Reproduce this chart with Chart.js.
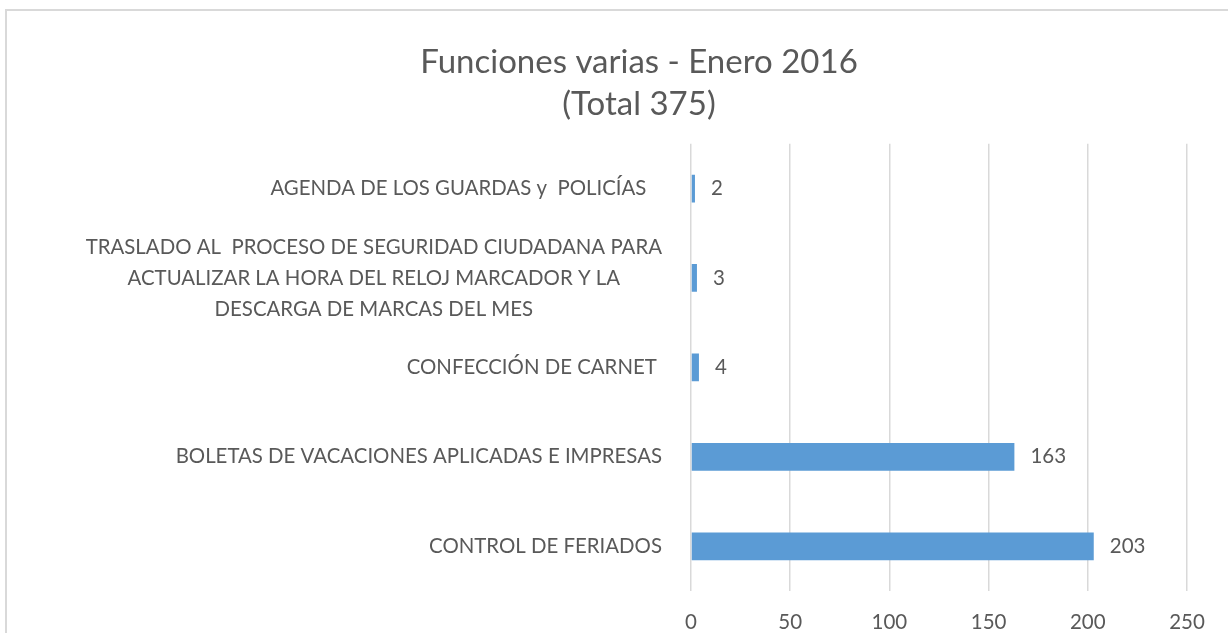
<!DOCTYPE html>
<html>
<head>
<meta charset="utf-8">
<script src="https://cdn.jsdelivr.net/npm/chart.js@4.4.1/dist/chart.umd.min.js"></script>
<style>
  html, body { margin: 0; padding: 0; background: #ffffff; overflow: hidden; }
  #wrap { position: absolute; left: 0; top: 0; width: 1228px; height: 633px; }
</style>
</head>
<body>
<div id="wrap"><canvas id="c"></canvas></div>
<script>
const titleLines = ['Funciones varias - Enero 2016', '(Total 375)'];
const categories = [
  'AGENDA DE LOS GUARDAS y  POLICÍAS   ',
  ['TRASLADO AL  PROCESO DE SEGURIDAD CIUDADANA PARA', 'ACTUALIZAR LA HORA DEL RELOJ MARCADOR Y LA', 'DESCARGA DE MARCAS DEL MES'],
  'CONFECCIÓN DE CARNET ',
  'BOLETAS DE VACACIONES APLICADAS E IMPRESAS',
  'CONTROL DE FERIADOS'
];
const values = [2, 3, 4, 163, 203];
const xTicks = [0, 50, 100, 150, 200, 250];

const FONT = 'Lato, "Open Sans", sans-serif';
const TEXT = '#595959';
const LABEL_SIZE = 20.4;
const NUM_SIZE = 20.5;

const borderPlugin = {
  id: 'frame',
  beforeDraw(chart) {
    const ctx = chart.ctx;
    ctx.save();
    ctx.fillStyle = '#d9d9d9';
    ctx.fillRect(5, 9, 2, chart.height);
    ctx.fillRect(5, 9, chart.width, 2);
    ctx.restore();
  }
};

const yLabelPlugin = {
  id: 'yLabels',
  afterDraw(chart) {
    const ctx = chart.ctx;
    const ys = chart.scales.y;
    const right = chart.chartArea.left - 29;
    ctx.save();
    ctx.font = LABEL_SIZE + 'px ' + FONT;
    ctx.fillStyle = TEXT;
    ctx.textBaseline = 'middle';
    chart.data.labels.forEach((lab, i) => {
      const y = ys.getPixelForTick(i);
      if (Array.isArray(lab)) {
        const maxW = Math.max(...lab.map(l => ctx.measureText(l).width));
        const cx = right - maxW / 2;
        const lh = 31;
        ctx.textAlign = 'center';
        lab.forEach((l, k) => {
          ctx.fillText(l, cx, y + (k - (lab.length - 1) / 2) * lh);
        });
      } else {
        ctx.textAlign = 'right';
        ctx.fillText(lab, right, y);
      }
    });
    ctx.restore();
  }
};

const valueLabelPlugin = {
  id: 'valueLabels',
  afterDatasetsDraw(chart) {
    const ctx = chart.ctx;
    const meta = chart.getDatasetMeta(0);
    ctx.save();
    ctx.font = NUM_SIZE + 'px ' + FONT;
    ctx.fillStyle = TEXT;
    ctx.textAlign = 'left';
    ctx.textBaseline = 'middle';
    meta.data.forEach((bar, i) => {
      ctx.fillText(String(chart.data.datasets[0].data[i]), bar.x + 16, bar.y);
    });
    ctx.restore();
  }
};

new Chart(document.getElementById('c'), {
  type: 'bar',
  data: {
    labels: categories,
    datasets: [{
      data: values,
      backgroundColor: '#5b9bd5',
      borderWidth: 0,
      barPercentage: 0.31,
      categoryPercentage: 1
    }]
  },
  options: {
    indexAxis: 'y',
    responsive: true,
    maintainAspectRatio: false,
    animation: false,
    layout: { padding: { left: 91, right: 41, top: 0, bottom: 2 } },
    plugins: {
      legend: { display: false },
      tooltip: { enabled: false },
      title: {
        display: true,
        text: titleLines,
        color: TEXT,
        font: { family: FONT, size: 33, weight: 'normal', lineHeight: 1.27 },
        padding: { top: 41, bottom: 19 }
      }
    },
    scales: {
      x: {
        type: 'linear',
        min: xTicks[0],
        max: xTicks[xTicks.length - 1],
        afterBuildTicks(scale) { scale.ticks = xTicks.map(v => ({ value: v })); },
        afterFit(scale) { scale.height = 40; },
        grid: { color: '#d9d9d9', lineWidth: 1.5, drawTicks: false },
        border: { display: false },
        ticks: { color: TEXT, font: { family: FONT, size: NUM_SIZE }, padding: 19 }
      },
      y: {
        grid: { display: false, drawTicks: false },
        border: { display: false },
        ticks: { display: false },
        afterFit(scale) { scale.width = 600; }
      }
    }
  },
  plugins: [borderPlugin, yLabelPlugin, valueLabelPlugin]
});
</script>
</body>
</html>
